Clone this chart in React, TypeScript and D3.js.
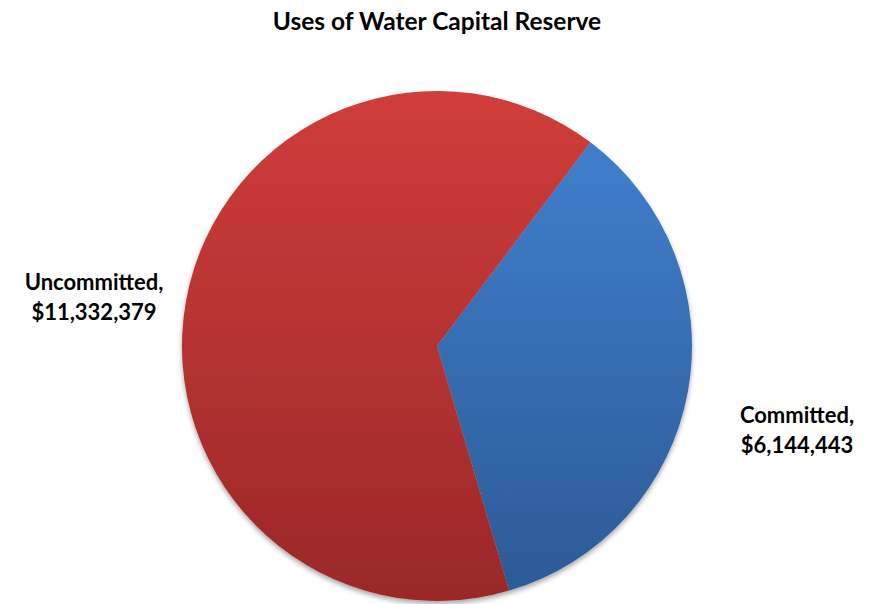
import React from "react";
import * as d3 from "d3";

const categories = ["Committed", "Uncommitted"];
const values = [6144443, 11332379];
const valueLabels = ["$6,144,443", "$11,332,379"];
const title = "Uses of Water Capital Reserve";

const W = 875;
const H = 604;
const cx = 437;
const cy = 346;
const R = 255;
const startDeg = 37;

const gradients = [
  { id: "gBlue", top: "#4282d2", bottom: "#2b5a94" },
  { id: "gRed", top: "#d03d3a", bottom: "#9a2828" },
];

const labelPos = [
  { x: 797, y: 423 },
  { x: 94, y: 290 },
];

export default function App() {
  const pie = d3
    .pie<number>()
    .sort(null)
    .value((d) => d)
    .startAngle((startDeg * Math.PI) / 180)
    .endAngle(((startDeg + 360) * Math.PI) / 180);
  const arcs = pie(values);
  const arc = d3.arc<d3.PieArcDatum<number>>().innerRadius(0).outerRadius(R);
  const font = "Lato, 'Open Sans', sans-serif";
  return (
    <svg
      width={W}
      height={H}
      style={{ position: "absolute", left: 0, top: 0, background: "#fff" }}
    >
      <defs>
        {gradients.map((g) => (
          <linearGradient
            key={g.id}
            id={g.id}
            gradientUnits="userSpaceOnUse"
            x1={0}
            y1={-R}
            x2={0}
            y2={R}
          >
            <stop offset="0%" stopColor={g.top} />
            <stop offset="100%" stopColor={g.bottom} />
          </linearGradient>
        ))}
        <filter id="shadow" x="-10%" y="-10%" width="120%" height="120%">
          <feGaussianBlur in="SourceAlpha" stdDeviation="2.5" />
          <feOffset dx="0" dy="3" result="b" />
          <feComponentTransfer>
            <feFuncA type="linear" slope="0.35" />
          </feComponentTransfer>
          <feMerge>
            <feMergeNode />
            <feMergeNode in="SourceGraphic" />
          </feMerge>
        </filter>
      </defs>
      <text
        x={437}
        y={30}
        textAnchor="middle"
        fontFamily={font}
        fontWeight="bold"
        fontSize={24.5}
        fill="#000"
      >
        {title}
      </text>
      <g transform={`translate(${cx},${cy})`} filter="url(#shadow)">
        {arcs.map((a, i) => (
          <path
            key={categories[i]}
            d={arc(a) || ""}
            fill={`url(#${gradients[i].id})`}
          />
        ))}
      </g>
      {categories.map((c, i) => (
        <text
          key={c + "l"}
          x={labelPos[i].x}
          y={labelPos[i].y}
          textAnchor="middle"
          fontFamily={font}
          fontWeight="bold"
          fontSize={22}
          fill="#000"
        >
          <tspan x={labelPos[i].x} dy={0}>{c + ","}</tspan>
          <tspan x={labelPos[i].x} dy={30}>{valueLabels[i]}</tspan>
        </text>
      ))}
    </svg>
  );
}
